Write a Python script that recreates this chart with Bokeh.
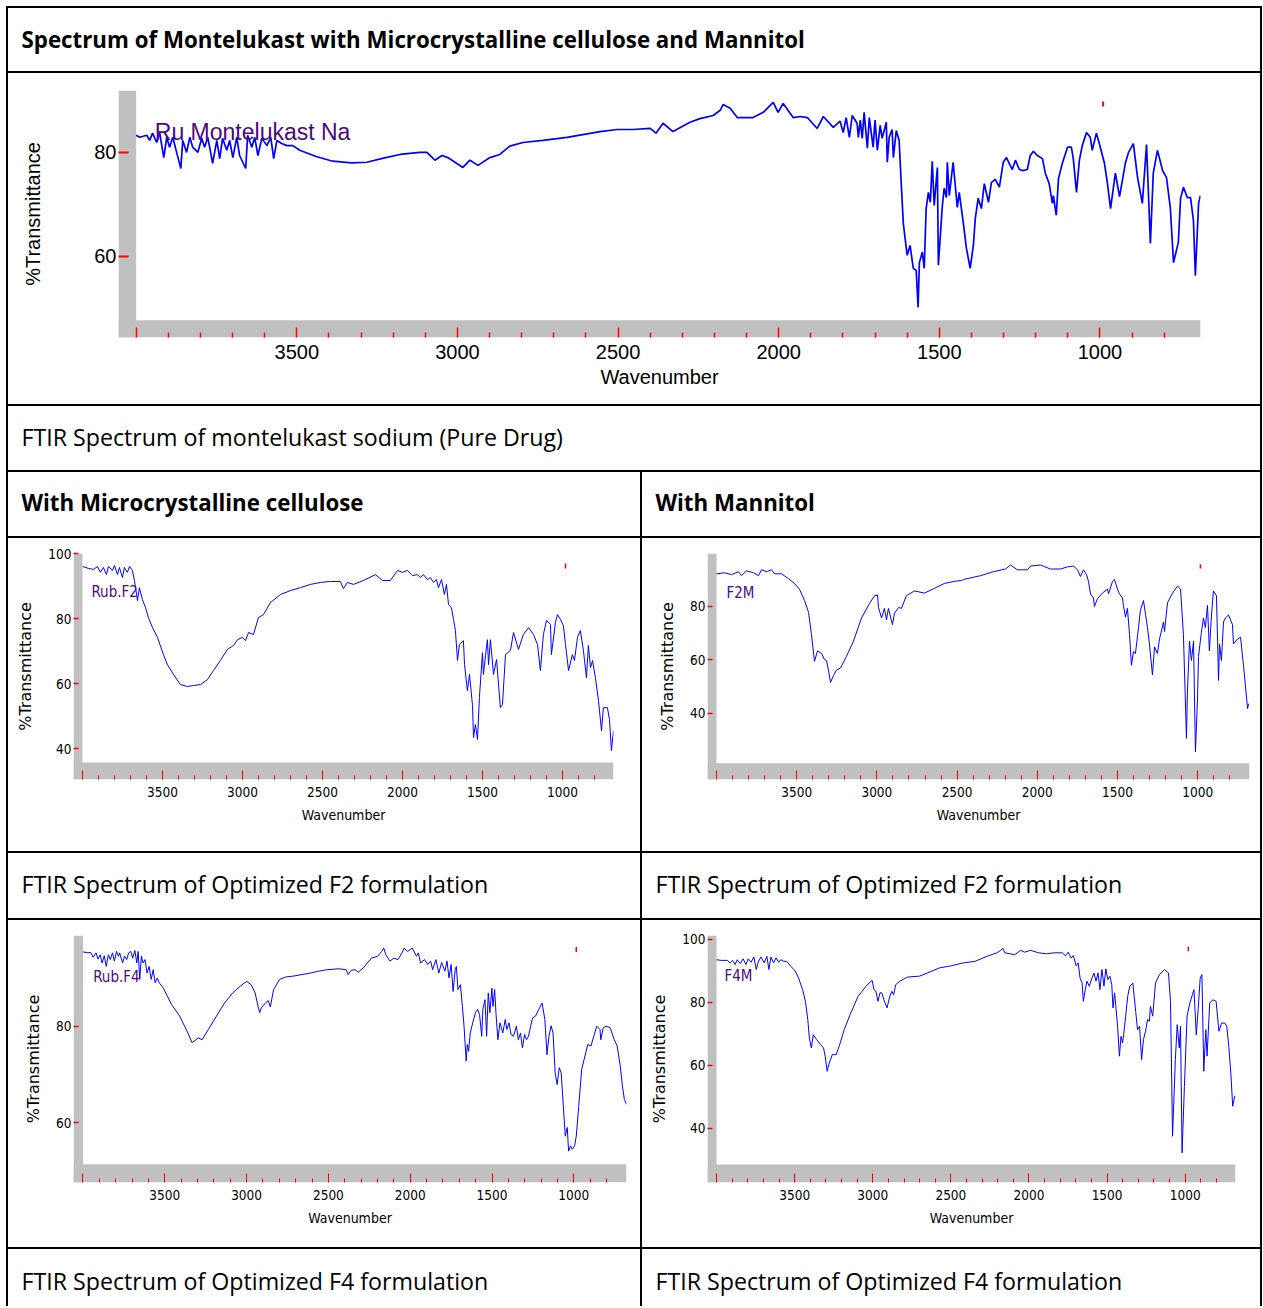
from bokeh.plotting import figure
from bokeh.layouts import column, row
from bokeh.models import Range1d, FixedTicker, BoxAnnotation, Label, ColumnDataSource, Spacer
from bokeh.embed import file_html
from bokeh.resources import INLINE
from bokeh.core.validation import silence
from bokeh.core.validation.warnings import MISSING_RENDERERS

silence(MISSING_RENDERERS, True)

# ---------------- data (wavenumber cm-1, %T) ----------------
pure_drug = [(4000,83.3),(3989,82.9),(3967,83.3),(3958,82.3),(3949,83.7),(3936,81.9),(3927,83.8),(3914,79.0),
 (3905,82.9),(3896,81.0),(3886,82.9),(3874,80.0),(3861,76.9),(3855,82.3),(3843,80.0),(3833,82.9),(3824,81.0),
 (3808,80.0),(3796,82.7),(3787,81.0),(3777,82.9),(3762,77.9),(3749,82.3),(3740,78.8),(3731,82.7),(3718,80.4),
 (3709,82.3),(3699,79.0),(3687,82.9),(3678,79.4),(3659,76.9),(3653,83.3),(3640,81.0),(3631,82.9),(3621,79.4),
 (3609,82.7),(3593,81.3),(3581,82.9),(3572,78.8),(3562,82.3),(3547,81.7),(3531,81.3),(3512,81.3),(3491,80.4),
 (3440,79.2),(3388,78.3),(3330,78.0),(3282,78.1),(3230,78.9),(3179,79.6),(3117,80.0),(3095,80.0),(3070,78.5),
 (3048,79.4),(3030,79.0),(2983,77.1),(2961,78.5),(2936,77.5),(2899,79.0),(2868,79.6),(2837,81.2),(2796,81.9),
 (2734,82.3),(2659,82.9),(2556,84.0),(2503,84.4),(2453,84.4),(2400,84.6),(2382,83.7),(2360,85.6),(2329,84.0),
 (2276,85.8),(2245,86.5),(2204,87.1),(2182,88.1),(2173,89.2),(2151,88.5),(2129,86.7),(2080,86.7),(2048,87.7),
 (2017,89.6),(2002,87.7),(1986,89.4),(1955,86.7),(1933,86.9),(1911,86.7),(1880,84.6),(1861,86.9),(1830,84.8),
 (1809,86.0),(1799,83.8),(1790,86.7),(1780,82.9),(1771,87.1),(1756,85.6),(1752,82.9),(1746,86.2),(1740,82.7),
 (1734,87.7),(1724,80.8),(1718,86.7),(1706,81.0),(1700,86.2),(1693,80.4),(1684,85.2),(1678,82.7),(1665,85.8),
 (1662,78.1),(1656,82.9),(1647,84.4),(1643,79.0),(1634,84.2),(1625,82.3),(1619,74.6),(1612,66.3),(1600,60.2),
 (1591,62.1),(1581,57.7),(1572,57.3),(1566,50.2),(1562,58.8),(1553,60.8),(1547,57.7),(1541,69.2),(1534,72.3),
 (1528,70.4),(1522,78.3),(1516,69.8),(1506,77.1),(1503,58.3),(1491,69.4),(1485,73.1),(1478,71.3),(1475,78.1),
 (1469,71.7),(1457,78.1),(1444,69.4),(1438,72.3),(1425,66.3),(1416,61.7),(1404,57.7),(1394,62.1),(1388,67.3),
 (1379,71.2),(1369,69.2),(1360,74.0),(1347,70.4),(1338,74.2),(1326,74.8),(1313,73.3),(1301,78.1),(1291,79.0),
 (1273,76.7),(1263,78.5),(1251,76.7),(1239,76.5),(1226,76.7),(1217,79.4),(1207,80.2),(1195,79.4),(1179,78.8),
 (1170,76.0),(1158,74.0),(1148,70.2),(1145,71.7),(1136,67.9),(1129,75.0),(1117,77.9),(1101,81.0),(1089,81.0),
 (1083,78.8),(1073,72.3),(1064,78.5),(1055,81.3),(1042,83.8),(1030,82.9),(1024,80.4),(1011,83.7),(1002,81.7),
 (986,77.9),(977,74.2),(967,69.2),(952,76.0),(939,71.5),(921,77.9),(911,80.0),(896,81.7),(883,75.2),(868,70.2),
 (855,81.5),(843,62.5),(834,76.0),(821,80.4),(805,76.5),(793,75.2),(781,69.4),(771,58.8),(756,62.7),(749,71.2),
 (740,73.3),(728,71.3),(718,71.3),(709,66.9),(703,56.3),(693,70.2),(687,71.7)]

f2_mcc = [(3998,96.0),(3962,95.4),(3931,95.1),(3906,96.0),(3888,94.2),(3869,95.7),(3850,93.5),(3838,96.0),
 (3812,94.8),(3800,96.3),(3781,93.5),(3769,95.7),(3750,92.6),(3738,95.7),(3719,94.2),(3706,96.0),(3688,94.8),
 (3675,91.7),(3656,85.5),(3644,89.5),(3625,85.8),(3606,83.4),(3588,80.3),(3562,77.2),(3531,74.2),(3494,68.9),
 (3469,65.8),(3431,62.8),(3388,59.7),(3344,59.1),(3306,59.4),(3262,59.7),(3219,61.2),(3181,64.0),(3138,67.1),
 (3094,70.5),(3056,71.7),(3031,73.5),(3000,74.2),(2981,73.2),(2962,75.7),(2931,75.1),(2900,80.3),(2869,81.2),
 (2825,84.9),(2762,87.4),(2700,88.6),(2638,89.5),(2575,90.5),(2512,91.1),(2450,91.4),(2388,91.4),(2369,89.2),
 (2344,91.1),(2306,90.5),(2244,91.7),(2169,93.5),(2125,91.7),(2075,91.7),(2031,94.8),(2000,94.2),(1969,94.8),
 (1938,93.2),(1906,93.5),(1888,92.6),(1869,93.5),(1844,92.0),(1825,92.6),(1806,91.1),(1788,92.0),(1775,89.5),
 (1756,92.0),(1738,87.4),(1725,90.5),(1712,84.3),(1694,83.4),(1681,79.7),(1669,76.3),(1656,67.1),(1644,72.0),
 (1619,73.2),(1612,65.8),(1594,57.8),(1581,62.8),(1562,53.2),(1556,43.4),(1544,47.4),(1531,42.8),(1519,55.7),
 (1500,69.5),(1494,62.8),(1481,68.6),(1469,73.5),(1462,65.8),(1450,73.5),(1431,62.8),(1412,67.4),(1388,52.6),
 (1375,53.5),(1356,68.9),(1325,70.2),(1306,75.7),(1275,70.5),(1244,75.1),(1212,77.2),(1181,75.1),(1156,72.0),
 (1138,64.0),(1119,75.1),(1100,79.4),(1075,78.2),(1069,68.9),(1044,78.8),(1031,81.2),(1012,79.7),(994,77.8),
 (981,72.0),(962,64.0),(938,68.9),(925,67.1),(906,74.2),(888,76.3),(869,70.2),(850,61.8),(838,71.7),(825,64.9),
 (812,67.1),(794,61.8),(775,54.8),(756,45.5),(744,52.6),(719,52.6),(706,48.9),(694,39.4),(681,45.5)]

f2_mannitol = [(4000,92.2),(3950,92.6),(3906,91.9),(3863,93.0),(3844,91.5),(3813,93.3),(3769,92.6),(3738,91.5),
 (3719,93.7),(3688,93.0),(3657,93.7),(3638,92.2),(3595,92.2),(3551,90.4),(3514,88.6),(3483,86.5),(3451,82.2),
 (3426,77.8),(3408,69.6),(3389,59.5),(3370,63.4),(3345,62.4),(3327,60.2),(3314,59.8),(3302,56.2),(3289,51.6),
 (3271,54.1),(3252,56.2),(3227,57.0),(3190,61.3),(3146,67.0),(3096,75.7),(3046,81.1),(3015,84.0),(2996,84.3),
 (2990,79.6),(2971,75.7),(2953,79.3),(2940,75.0),(2928,79.3),(2903,73.2),(2890,77.5),(2865,79.6),(2847,79.3),
 (2816,84.0),(2766,85.8),(2703,85.0),(2641,86.8),(2579,88.6),(2516,89.4),(2473,89.7),(2460,90.1),(2354,91.5),
 (2273,93.0),(2198,94.0),(2167,95.5),(2124,93.7),(2061,93.7),(2042,95.1),(1980,95.5),(1918,94.0),(1855,94.0),
 (1812,94.8),(1774,95.1),(1749,93.7),(1731,91.2),(1712,93.7),(1693,91.9),(1681,89.4),(1668,84.7),(1650,83.2),
 (1644,80.0),(1625,82.9),(1594,85.0),(1562,86.5),(1556,84.7),(1531,89.4),(1519,90.1),(1500,86.5),(1488,84.7),
 (1469,83.2),(1463,80.4),(1450,76.0),(1438,79.3),(1425,69.6),(1413,58.0),(1400,63.1),(1388,62.4),(1369,72.1),
 (1357,78.6),(1338,82.2),(1313,72.1),(1301,66.0),(1282,54.4),(1269,64.9),(1251,62.4),(1238,67.8),(1213,74.2),
 (1207,70.6),(1188,81.4),(1157,85.0),(1126,87.6),(1107,86.5),(1089,69.6),(1070,30.7),(1064,48.0),(1051,67.0),
 (1039,59.8),(1026,67.0),(1014,25.6),(1001,45.4),(995,61.3),(977,70.3),(964,75.7),(952,72.1),(939,80.4),
 (927,63.4),(914,76.8),(902,85.8),(883,84.0),(870,52.3),(864,66.0),(852,59.8),(839,74.2),(827,75.7),(808,76.8),
 (783,73.2),(777,66.0),(752,67.8),(733,68.5),(714,57.7),(689,41.8),(683,43.6)]

f4_mcc = [(4000,95.4),(3970,95.2),(3953,95.3),(3938,94.3),(3920,95.2),(3908,93.9),(3895,94.8),(3883,93.1),
 (3870,94.6),(3858,92.4),(3845,94.8),(3833,93.8),(3820,95.2),(3808,93.5),(3795,95.5),(3783,94.5),(3776,95.2),
 (3758,93.1),(3746,94.5),(3733,93.8),(3721,95.2),(3708,95.5),(3696,94.1),(3683,95.7),(3671,93.1),(3663,95.5),
 (3653,89.7),(3643,94.5),(3633,93.1),(3621,93.8),(3608,91.0),(3596,92.4),(3583,89.7),(3571,91.7),(3559,89.0),
 (3546,90.0),(3534,89.0),(3509,87.9),(3484,86.2),(3459,84.5),(3409,82.1),(3359,78.6),(3334,76.6),(3309,77.2),
 (3297,77.6),(3272,77.2),(3234,79.3),(3184,82.1),(3135,84.8),(3085,86.9),(3035,88.4),(3000,89.3),(2972,88.6),
 (2948,86.9),(2930,84.1),(2920,82.8),(2910,83.8),(2885,84.8),(2868,85.3),(2855,84.0),(2835,87.6),(2798,89.7),
 (2760,90.2),(2711,90.4),(2661,90.7),(2611,91.0),(2561,91.4),(2511,91.7),(2436,91.9),(2391,91.7),(2379,90.7),
 (2361,91.6),(2337,91.7),(2317,91.2),(2287,92.1),(2237,94.1),(2199,94.5),(2174,95.5),(2162,96.2),(2149,94.8),
 (2124,93.5),(2100,94.1),(2075,93.8),(2050,95.2),(2037,96.2),(2017,95.5),(1987,96.2),(1962,94.5),(1950,95.2),
 (1937,93.1),(1912,93.8),(1893,92.8),(1875,93.5),(1863,91.7),(1843,93.8),(1825,91.0),(1808,93.2),(1788,91.4),
 (1775,93.5),(1763,90.0),(1750,92.8),(1738,87.2),(1725,91.7),(1718,92.4),(1708,87.6),(1693,88.6),(1681,84.1),
 (1671,80.0),(1658,72.8),(1651,76.2),(1643,74.8),(1633,78.6),(1618,80.7),(1601,82.8),(1588,83.5),(1576,82.4),
 (1563,77.9),(1556,83.5),(1543,85.5),(1533,77.9),(1523,86.9),(1513,82.8),(1501,87.9),(1494,84.1),(1484,87.6),
 (1476,82.8),(1464,77.2),(1451,80.7),(1434,78.6),(1419,81.4),(1409,79.3),(1396,80.7),(1384,78.3),(1369,77.9),
 (1351,80.0),(1339,77.2),(1326,78.6),(1314,75.5),(1301,78.3),(1289,77.2),(1277,77.9),(1264,80.0),(1252,81.7),
 (1234,82.1),(1214,83.5),(1194,84.8),(1177,81.4),(1164,74.1),(1152,77.9),(1139,80.1),(1127,78.6),(1114,70.3),
 (1102,67.9),(1089,71.4),(1077,70.3),(1064,63.4),(1052,57.2),(1040,59.0),(1032,54.1),(1020,55.2),(1010,54.5),
 (995,55.2),(985,57.2),(970,63.4),(952,71.0),(927,74.5),(915,76.2),(895,75.9),(878,77.9),(860,80.0),(840,79.3),
 (835,77.2),(820,79.7),(803,80.0),(778,79.7),(753,77.2),(735,75.9),(716,71.7),(703,67.6),(691,64.8),(678,63.8)]

f4_mannitol = [(4000,93.5),(3970,93.3),(3931,93.3),(3914,92.5),(3898,93.3),(3881,92.0),(3868,93.5),(3848,92.3),
 (3830,93.8),(3812,92.0),(3797,93.8),(3779,92.7),(3761,94.4),(3746,90.4),(3734,92.7),(3716,94.4),(3695,92.5),
 (3678,94.6),(3665,90.4),(3652,94.4),(3635,92.5),(3619,94.1),(3602,92.7),(3589,93.5),(3569,93.0),(3551,93.0),
 (3525,91.4),(3500,90.2),(3475,87.7),(3449,84.0),(3431,80.3),(3416,74.5),(3406,68.7),(3393,65.5),(3381,69.7),
 (3360,68.2),(3335,66.6),(3315,65.5),(3305,62.9),(3292,58.1),(3279,60.7),(3259,63.4),(3234,63.4),(3208,67.1),
 (3183,71.3),(3145,76.1),(3094,81.9),(3043,85.1),(3005,87.0),(2992,84.0),(2980,83.5),(2967,80.3),(2954,83.0),
 (2942,83.0),(2929,80.8),(2909,78.2),(2891,81.9),(2878,83.5),(2866,82.4),(2853,85.6),(2827,86.7),(2777,88.0),
 (2701,88.3),(2650,89.3),(2574,90.9),(2497,91.6),(2421,92.5),(2345,93.0),(2269,94.6),(2206,95.7),(2180,96.5),
 (2168,97.2),(2155,95.7),(2091,95.1),(2053,96.5),(2028,95.9),(1990,96.5),(1939,95.7),(1888,95.4),(1838,95.7),
 (1787,95.7),(1767,94.8),(1749,95.9),(1731,94.1),(1716,94.8),(1698,91.6),(1685,92.5),(1673,87.7),(1660,86.1),
 (1652,80.3),(1640,84.0),(1629,86.7),(1614,85.1),(1597,87.7),(1584,89.3),(1571,86.7),(1558,89.3),(1546,84.0),
 (1533,90.4),(1520,85.1),(1508,90.6),(1495,87.2),(1482,88.3),(1470,85.6),(1462,78.2),(1452,83.0),(1444,78.7),
 (1432,71.9),(1421,62.9),(1411,69.2),(1401,67.1),(1394,69.7),(1381,75.6),(1368,81.9),(1355,85.1),(1335,86.1),
 (1317,77.1),(1305,71.3),(1292,72.4),(1279,61.8),(1267,68.2),(1254,70.8),(1241,74.5),(1229,74.0),(1223,78.7),
 (1208,75.6),(1190,86.1),(1165,88.8),(1132,90.4),(1107,89.3),(1094,80.3),(1081,37.5),(1063,61.8),(1051,72.9),
 (1038,65.5),(1030,72.4),(1020,32.2),(1005,53.3),(988,75.6),(970,79.8),(954,82.4),(944,84.0),(929,69.7),
 (917,77.7),(904,87.7),(893,88.8),(881,58.1),(868,71.3),(860,62.9),(843,79.8),(822,80.8),(802,80.3),(784,70.8),
 (767,73.4),(746,73.4),(734,72.4),(721,66.0),(708,57.6),(696,47.0),(683,50.2),(678,50.0)]

x_major = [4000, 3500, 3000, 2500, 2000, 1500, 1000]
x_major_labels = {4000: "", 3500: "3500", 3000: "3000", 2500: "2500", 2000: "2000", 1500: "1500", 1000: "1000"}
x_minor = [w for w in range(4000, 750, -100) if w % 500 != 0]

title_text = "Spectrum of Montelukast with Microcrystalline cellulose and Mannitol"
cap_pure = "FTIR Spectrum of montelukast sodium (Pure Drug)"
sub_left = "With Microcrystalline cellulose"
sub_right = "With Mannitol"
cap_f2 = "FTIR Spectrum of Optimized F2  formulation"
cap_f4 = "FTIR Spectrum of Optimized F4  formulation"

# ---------------- styling ----------------
ARIAL = "'Liberation Sans', Arial, sans-serif"
NARROW = "'Liberation Sans Narrow', 'DejaVu Sans Condensed', 'Liberation Sans', sans-serif"
WIDE = "'DejaVu Sans', sans-serif"
DOC = "'Open Sans', Lato, sans-serif"
GRAY = "#c0c0c0"
BLUE = "#0000ff"
RED = "#ff0000"
PURPLE = "#4b0a82"
BLACK_BG = {"background-color": "black"}
BOLD_SIZE = "22.3px"
REG_SIZE = "23.2px"


def base_fig(w, h, **kw):
    return figure(width=w, height=h, toolbar_location=None, output_backend="svg",
                  outline_line_color=None, **kw)


def vline(h):
    return Spacer(width=2, height=h, styles=BLACK_BG)


def hline(w):
    return Spacer(width=w, height=2, styles=BLACK_BG)


def text_cell(w, h, txt, bold, yoff):
    f = base_fig(w, h, min_border=0, x_axis_type=None, y_axis_type=None,
                 x_range=Range1d(0, w), y_range=Range1d(h, 0))
    f.add_layout(Label(x=13, y=yoff, text=txt, text_font=DOC,
                       text_font_size=BOLD_SIZE if bold else REG_SIZE,
                       text_font_style="bold" if bold else "normal",
                       text_baseline="middle", text_color="black"))
    return f


def panel(data, cw, ch, fl, ft, fw, fh, xr, yr, bar_top, yticks, name, name_pos, mark,
          big=False):
    p = base_fig(cw, ch, x_range=Range1d(*xr), y_range=Range1d(*yr),
                 min_border_left=fl, min_border_top=ft,
                 min_border_right=cw - fl - fw, min_border_bottom=ch - ft - fh)
    p.xgrid.visible = False
    p.ygrid.visible = False
    # grey axis bands of the instrument software
    p.add_layout(BoxAnnotation(left=xr[0], right=4000, bottom=yr[0], top=yr[1],
                               fill_color=GRAY, fill_alpha=1, line_color=None, level="underlay"))
    p.add_layout(BoxAnnotation(left=xr[0], right=xr[1], bottom=yr[0], top=bar_top,
                               fill_color=GRAY, fill_alpha=1, line_color=None, level="underlay"))
    wn = [d[0] for d in data]
    tr = [d[1] for d in data]
    src = ColumnDataSource(dict(wn=wn, tr=tr))
    p.line("wn", "tr", source=src, line_color=BLUE, line_width=1.7 if big else 1.0)
    p.segment(x0=[mark[0]], y0=[mark[1]], x1=[mark[0]], y1=[mark[2]], line_color=RED,
              line_width=2 if big else 1.5)
    p.add_layout(Label(x=name_pos[0], y=name_pos[1], text=name, text_color=PURPLE,
                       text_font=ARIAL if big else NARROW,
                       text_font_size="23px" if big else "15px", text_baseline="middle"))

    xa = p.xaxis[0]
    xa.ticker = FixedTicker(ticks=x_major, minor_ticks=x_minor)
    xa.major_label_overrides = x_major_labels
    xa.axis_line_color = None
    xa.major_tick_line_color = RED
    xa.minor_tick_line_color = RED
    xa.major_tick_in = 10 if big else 9
    xa.major_tick_out = 0
    xa.minor_tick_in = 5 if big else 4
    xa.minor_tick_out = 0
    xa.major_tick_line_width = 1.5 if big else 1
    xa.minor_tick_line_width = 1.5 if big else 1
    xa.axis_label = "Wavenumber"
    xa.axis_label_text_font_style = "normal"
    xa.axis_label_text_color = "black"
    xa.major_label_text_color = "black"
    ya = p.yaxis[0]
    ya.ticker = FixedTicker(ticks=yticks, minor_ticks=[])
    ya.axis_line_color = None
    ya.major_tick_line_color = RED
    ya.major_tick_in = 10 if big else 5
    ya.major_tick_out = 0
    ya.major_tick_line_width = 2 if big else 1.5
    ya.major_label_standoff = 2
    ya.axis_label = "%Transmittance"
    ya.axis_label_text_font_style = "normal"
    ya.axis_label_text_color = "black"
    ya.major_label_text_color = "black"
    if big:
        for a in (xa, ya):
            a.major_label_text_font = ARIAL
            a.major_label_text_font_size = "20px"
            a.axis_label_text_font = ARIAL
            a.axis_label_text_font_size = "20px"
        xa.major_label_standoff = 7
        xa.axis_label_standoff = 4
        ya.axis_label_standoff = 47
    else:
        for a in (xa, ya):
            a.major_label_text_font = NARROW
            a.major_label_text_font_size = "13.5px"
        xa.axis_label_text_font = NARROW
        xa.axis_label_text_font_size = "14px"
        ya.axis_label_text_font = WIDE
        ya.axis_label_text_font_size = "16px"
        xa.major_label_standoff = 7
        xa.axis_label_standoff = 7
        ya.axis_label_standoff = 10
    return p


FULL = 1252   # inner width of full-width cells
L, R = 632, 618

pure_p = panel(pure_drug, FULL, 331, 110, 17, 1082, 247, (4055, 687), (44.4, 91.9), 47.7,
               [60, 80], "Ru Montelukast Na", (3942, 84.0), (990, 88.8, 89.8), big=True)
f2_p = panel(f2_mcc, L, 313, 65, 15, 540, 226, (4056, 681), (30.5, 100), 35.7,
             [40, 60, 80, 100], "Rub.F2", (3944, 88.3), (981, 95.4, 96.9))
f2m_p = panel(f2_mannitol, R, 313, 65, 15, 542, 235, (4056, 677), (15.3, 99.8), 21.4,
              [40, 60, 80], "F2M", (3938, 85.0), (983, 94.2, 95.8))
f4_p = panel(f4_mcc, L, 327, 65, 15, 553, 247, (4058, 678), (47.6, 98.8), 51.4,
             [60, 80], "Rub.F4", (3938, 90.3), (985, 95.4, 96.4))
f4m_p = panel(f4_mannitol, R, 327, 65, 15, 528, 247, (4058, 678), (22.8, 101.2), 28.5,
              [40, 60, 80, 100], "F4M", (3949, 88.3), (980, 96.2, 97.6))

TW = FULL + 4

table = column(
    hline(TW),
    row(vline(63), text_cell(FULL, 63, title_text, True, 31), vline(63)),
    hline(TW),
    row(vline(331), pure_p, vline(331)),
    hline(TW),
    row(vline(64), text_cell(FULL, 64, cap_pure, False, 30), vline(64)),
    hline(TW),
    row(vline(64), text_cell(L, 64, sub_left, True, 30), vline(64),
        text_cell(R, 64, sub_right, True, 30), vline(64)),
    hline(TW),
    row(vline(313), f2_p, vline(313), f2m_p, vline(313)),
    hline(TW),
    row(vline(65), text_cell(L, 65, cap_f2, False, 30), vline(65),
        text_cell(R, 65, cap_f2, False, 30), vline(65)),
    hline(TW),
    row(vline(327), f4_p, vline(327), f4m_p, vline(327)),
    hline(TW),
    row(vline(57), text_cell(L, 57, cap_f4, False, 31), vline(57),
        text_cell(R, 57, cap_f4, False, 31), vline(57)),
)

layout = column(Spacer(width=1, height=6), row(Spacer(width=6, height=1), table))

open("out.html", "w").write(file_html(layout, INLINE, "FTIR spectra"))
